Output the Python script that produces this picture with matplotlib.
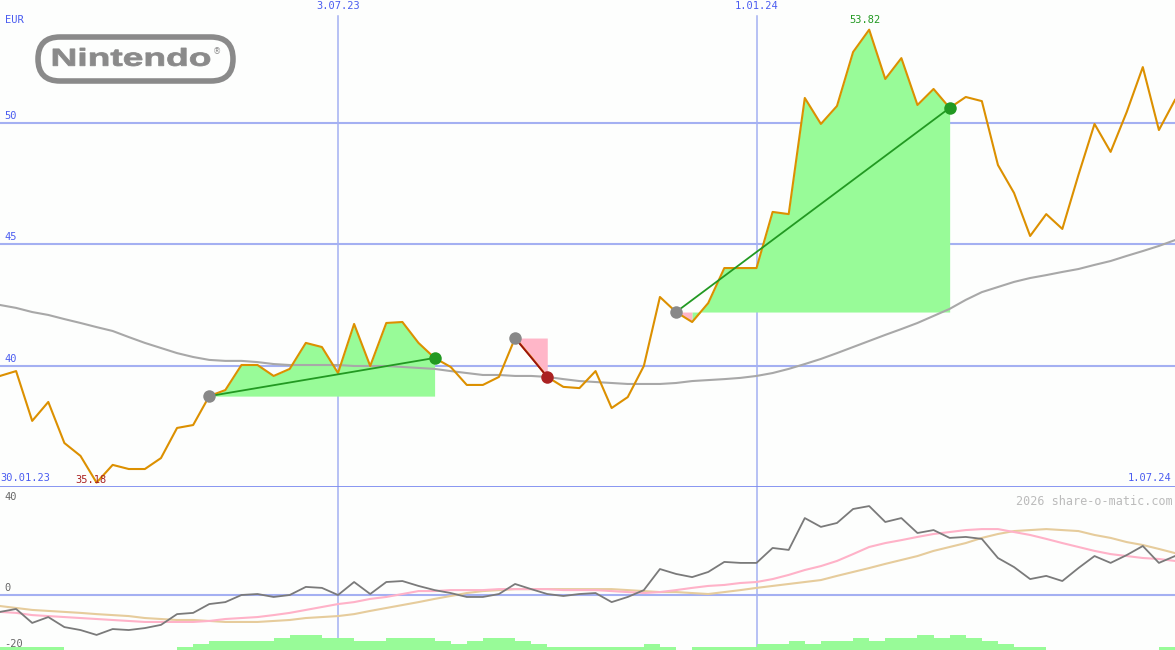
import numpy as np
import matplotlib.pyplot as plt
from matplotlib.patches import FancyBboxPatch, PathPatch
from matplotlib.textpath import TextPath
from matplotlib.font_manager import FontProperties
import matplotlib.transforms as mtrans

# weekly closes, EUR (Feb 2023 - Jul 2024)
start = np.datetime64('2023-02-06')
dates = start + np.arange(74) * np.timedelta64(7, 'D')

price = [39.57, 39.77, 37.72, 38.50, 36.81, 36.28, 35.18, 35.91, 35.74, 35.74,
         36.19, 37.43, 37.55, 38.74, 38.99, 40.02, 40.02, 39.57, 39.86, 40.93,
         40.76, 39.69, 41.71, 39.98, 41.75, 41.79, 40.93, 40.31, 39.94, 39.20,
         39.20, 39.53, 41.13, 40.35, 39.53, 39.12, 39.07, 39.77, 38.25, 38.70,
         39.98, 42.82, 42.20, 41.79, 42.57, 44.01, 44.01, 44.01, 46.32, 46.23,
         51.01, 49.94, 50.68, 52.90, 53.82, 51.79, 52.65, 50.72, 51.38, 50.60,
         51.05, 50.88, 48.25, 47.10, 45.33, 46.23, 45.62, 47.84, 49.94, 48.79,
         50.43, 52.28, 49.69, 50.93]

ma = [42.49, 42.37, 42.20, 42.08, 41.91, 41.75, 41.58, 41.42, 41.17, 40.93,
      40.72, 40.51, 40.35, 40.23, 40.19, 40.19, 40.14, 40.06, 40.02, 40.02,
      40.02, 40.02, 39.98, 39.98, 39.98, 39.94, 39.90, 39.86, 39.77, 39.69,
      39.61, 39.61, 39.57, 39.57, 39.53, 39.44, 39.36, 39.32, 39.28, 39.24,
      39.24, 39.24, 39.28, 39.36, 39.40, 39.44, 39.49, 39.57, 39.69, 39.86,
      40.06, 40.27, 40.51, 40.76, 41.01, 41.26, 41.50, 41.75, 42.04, 42.33,
      42.70, 43.02, 43.23, 43.44, 43.60, 43.72, 43.85, 43.97, 44.14, 44.30,
      44.51, 44.71, 44.92, 45.16]

# lower panel indicator
mom = [-6.9, -5.7, -11.4, -9.0, -13.1, -14.3, -16.3, -13.9, -14.3, -13.5,
       -12.2, -7.8, -7.3, -3.7, -2.9, 0.0, 0.4, -0.8, 0.0, 3.3,
       2.9, 0.0, 5.3, 0.4, 5.3, 5.7, 3.7, 2.0, 0.8, -0.8,
       -0.8, 0.4, 4.5, 2.4, 0.4, -0.4, 0.4, 0.8, -2.9, -0.8,
       2.0, 10.6, 8.6, 7.3, 9.4, 13.5, 13.1, 13.1, 19.2, 18.4,
       31.4, 27.8, 29.4, 35.1, 36.3, 29.8, 31.4, 25.3, 26.5, 23.3,
       23.7, 22.9, 15.1, 11.4, 6.5, 7.8, 5.7, 11.0, 15.9, 13.1,
       16.3, 20.0, 13.1, 15.9]

sig_pink = [-6.9, -7.3, -8.2, -8.6, -9.0, -9.4, -9.8, -10.2, -10.6, -11.0,
            -11.0, -11.0, -11.0, -10.6, -9.8, -9.4, -9.0, -8.2, -7.3, -6.1,
            -4.9, -3.7, -2.9, -1.6, -0.8, 0.4, 1.6, 1.6, 2.0, 2.0,
            2.0, 2.4, 2.4, 2.4, 2.4, 2.0, 2.0, 2.0, 1.6, 1.2,
            0.8, 1.2, 2.0, 2.9, 3.7, 4.1, 4.9, 5.3, 6.5, 8.2,
            10.2, 11.8, 13.9, 16.7, 19.6, 21.2, 22.4, 23.7, 24.9, 25.7,
            26.5, 26.9, 26.9, 25.7, 24.5, 22.9, 21.2, 19.6, 18.0, 16.7,
            15.9, 15.1, 14.7, 13.9]

sig_tan = [-4.5, -5.3, -6.1, -6.5, -6.9, -7.3, -7.8, -8.2, -8.6, -9.4,
           -9.8, -10.2, -10.2, -10.6, -11.0, -11.0, -11.0, -10.6, -10.2, -9.4,
           -9.0, -8.6, -7.8, -6.5, -5.3, -4.1, -2.9, -1.6, -0.4, 0.8,
           1.6, 2.0, 2.4, 2.4, 2.4, 2.4, 2.4, 2.4, 2.4, 2.0,
           1.6, 1.2, 1.2, 0.8, 0.4, 1.2, 2.0, 2.9, 3.7, 4.5,
           5.3, 6.1, 7.8, 9.4, 11.0, 12.7, 14.3, 15.9, 18.0, 19.6,
           21.2, 23.3, 24.9, 26.1, 26.5, 26.9, 26.5, 26.1, 24.5, 23.3,
           21.6, 20.4, 18.8, 17.1]

vol = [1, 1, 1, 1, 0, 0, 0, 0, 0, 0,
       0, 1, 2, 3, 3, 3, 3, 4, 5, 5,
       4, 4, 3, 3, 4, 4, 4, 3, 2, 3,
       4, 4, 3, 2, 1, 1, 1, 1, 1, 1,
       2, 1, 0, 1, 1, 1, 1, 2, 2, 3,
       2, 3, 3, 4, 3, 4, 4, 5, 4, 5,
       4, 3, 2, 1, 1, 0, 0, 0, 0, 0,
       0, 0, 1, 1]

# signals: start index, end index
sig_start = [13, 32, 42]
sig_end = [27, 34, 59]

price_ticks = [50, 45, 40]
date_lines = [np.datetime64('2023-07-03'), np.datetime64('2024-01-01')]
date_labels = ['3.07.23', '1.01.24']

GRID = '#a4b0f2'
BLUE = '#4a5cf0'
GREEN_F = '#98fb98'
PINK_F = '#ffb6c8'
mono = 'DejaVu Sans Mono'

fig = plt.figure(figsize=(11.75, 6.5), dpi=100, facecolor='#fdfefd')
ax = fig.add_axes([0, 163 / 650, 1, 487 / 650])
ax2 = fig.add_axes([0, 0, 1, 163 / 650])
for a in (ax, ax2):
    a.set_facecolor('none')
    a.set_xlim(dates[0], dates[-1])
    a.axis('off')

ax.set_ylim(35, 35 + 487 / 24.3)
ax2.set_ylim(-55 / 2.45, 108 / 2.45)

# grid
for v in price_ticks:
    ax.axhline(v, color=GRID, lw=1.5, zorder=1)
    ax.text(0.004, v + 0.08, str(v), transform=ax.get_yaxis_transform(),
            color=BLUE, fontsize=7.5, family=mono, va='bottom')
ax.axhline(35, color='#7d8cf0', lw=2, zorder=6)
for d, lab in zip(date_lines, date_labels):
    ax.axvline(d, ymax=1 - 16 / 487, color=GRID, lw=1.1, zorder=1)
    ax2.axvline(d, color=GRID, lw=1.1, zorder=1)
    ax.text(d, 0.998, lab, transform=ax.get_xaxis_transform(), color=BLUE,
            fontsize=7.5, family=mono, ha='center', va='top')

ax.text(0.004, 1 - 20 / 487, 'EUR', transform=ax.transAxes, color=BLUE,
        fontsize=7.5, family=mono, va='center')
ax.text(0.0, 35.15, '30.01.23', color=BLUE, fontsize=7.5, family=mono,
        transform=ax.get_yaxis_transform(), va='bottom', ha='left')
ax.text(0.997, 35.15, '1.07.24', color=BLUE, fontsize=7.5, family=mono,
        transform=ax.get_yaxis_transform(), va='bottom', ha='right')

# signal areas: colour per segment, merged into runs to avoid seams
for s, e in zip(sig_start, sig_end):
    base = price[s]
    cols = [GREEN_F if price[k + 1] >= base else PINK_F for k in range(s, e)]
    a = s
    for k in range(s, e):
        if k == e - 1 or cols[k + 1 - s] != cols[k - s]:
            ax.fill_between(dates[a:k + 2], base, price[a:k + 2],
                            color=cols[k - s], lw=0, zorder=2)
            a = k + 1

ax.plot(dates, ma, color='#a8a8a8', lw=1.5, zorder=3)
ax.plot(dates, price, color='#dc9000', lw=1.5, zorder=4)

for s, e in zip(sig_start, sig_end):
    up = price[e] >= price[s]
    ax.plot([dates[s], dates[e]], [price[s], price[e]],
            color='#229922' if up else '#9a1010', lw=1.3, zorder=5)
    ax.plot(dates[s], price[s], 'o', color='#888888', ms=9, mec='none', zorder=7)
    ax.plot(dates[e], price[e], 'o', color='#229922' if up else '#aa2222',
            ms=9, mec='none', zorder=7)

imax = int(np.argmax(price))
imin = int(np.argmin(price))
ax.annotate(f'{price[imax]:.2f}', (dates[imax], price[imax]),
            xytext=(-4, 5), textcoords='offset pixels', ha='center', va='bottom',
            color='#229922', fontsize=7.5, family=mono)
ax.annotate(f'{price[imin]:.2f}', (dates[imin], 35), xytext=(-6, 2),
            textcoords='offset pixels', ha='center', va='bottom',
            color='#aa2222', fontsize=7.5, family=mono, zorder=8)

# lower panel
ax2.axhline(0, color=GRID, lw=1.5, zorder=1)
ax2.plot(dates, sig_tan, color='#e6cc9c', lw=1.5, zorder=2)
ax2.plot(dates, sig_pink, color='#ffb2c8', lw=1.5, zorder=2)
ax2.plot(dates, mom, color='#7a7a7a', lw=1.3, zorder=3)
for v, va in zip([40, 0, -20], ['center', 'bottom', 'center']):
    ax2.text(0.004, v + (0.8 if v == 0 else 0), str(v),
             transform=ax2.get_yaxis_transform(), color='#666666',
             fontsize=7.5, family=mono, va=va)
ax2.text(0.998, 0.95, '2026 share-o-matic.com', transform=ax2.transAxes,
         color='#bbbbbb', fontsize=8.5, family=mono, ha='right', va='top')

ax3 = ax2.twinx()
ax3.set_facecolor('none')
ax3.bar(dates, vol, width=7, align='edge', color=GREEN_F, lw=0)
ax3.set_xlim(dates[0], dates[-1])
ax3.set_ylim(0, 163 / 3)
ax3.axis('off')

# logo
lax = fig.add_axes([0, 0, 1, 1])
lax.set_xlim(0, 1175)
lax.set_ylim(650, 0)
lax.axis('off')
lax.set_facecolor('none')
lax.add_patch(FancyBboxPatch((38, 37), 195, 44,
                             boxstyle='round,pad=0,rounding_size=22',
                             fc='none', ec='#8a8a8a', lw=4))
tp = TextPath((0, 0), 'Nintendo', size=1,
              prop=FontProperties(family='Liberation Sans', weight='bold'))
bb = tp.get_extents()
sx = 157 / bb.width
sy = 18 / bb.height
tr = mtrans.Affine2D().translate(-bb.x0, -bb.y0).scale(sx, -sy).translate(53, 66)
lax.add_patch(PathPatch(tp, transform=tr + lax.transData, fc='#8a8a8a',
                        ec='#8a8a8a', lw=0.6))
lax.text(217, 52, '®', color='#8a8a8a', fontsize=6, ha='center', va='center')

fig.savefig('out.png', dpi=100, facecolor=fig.get_facecolor())
